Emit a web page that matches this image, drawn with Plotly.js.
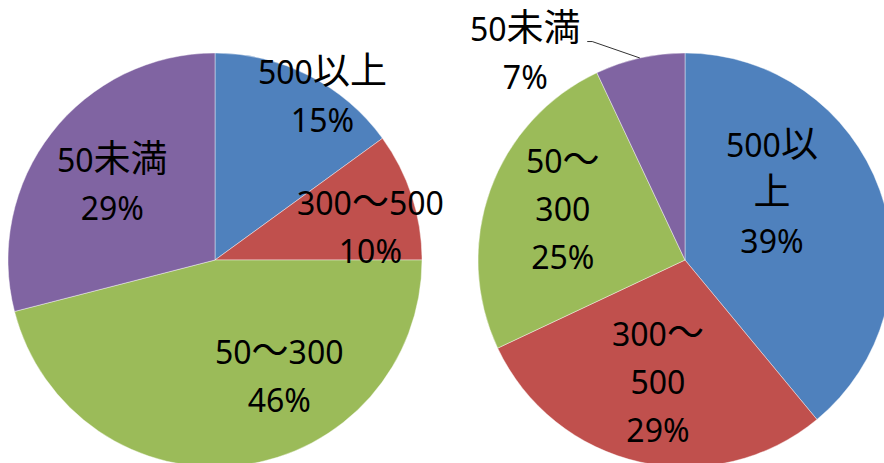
<!DOCTYPE html>
<html>
<head>
<meta charset="utf-8">
<script src="https://cdn.plot.ly/plotly-3.0.1.min.js"></script>
<style>
  html, body { margin: 0; padding: 0; overflow: hidden; background: #fff; }
  #chart { width: 900px; height: 470px; }
</style>
</head>
<body>
<div id="chart"></div>
<script>
// Size classes, clockwise from 12 o'clock
const categories = ['500以上', '300〜500', '50〜300', '50未満'];
// Share of each class (%), left and right pie
const leftShares = [15, 10, 46, 29];
const rightShares = [39, 29, 25, 7];
const sliceColors = ['#4F81BD', '#C0504D', '#9BBB59', '#8064A2'];

// Canvas and pie geometry (px)
const W = 900, H = 470;
const R = 207;
const FONT = 37, DIGIT_FONT = 32;
const LABEL_LIFT = 3; // optical centring of the label blocks (px)

const pies = [
  { values: leftShares, cx: 215, cy: 260, wrap: 0,
    // label placement per slice: [angle shift from slice middle (deg), distance / radius]
    place: [[6, 0.95], [6, 0.77], [-22, 0.64], [-1, 0.62]] },
  { values: rightShares, cx: 685, cy: 260, wrap: 2.5,
    place: [[-18, 0.53], [0, 0.60], [3, 0.64], [-25, 1.265]] }
];
// leader line start, relative to an outside label's centre (px)
const leaderStart = [62, -8], leaderBend = [67, -8];

// Latin runs are set a little smaller than the kana/kanji
function styleRuns(s) {
  return s.replace(/([0-9%]+)/g, '<span style="font-size:' + DIGIT_FONT + 'px">$1</span>');
}
// Wrap a label to a width given in em: numbers stay whole, kana/kanji may break anywhere
function wrapText(s, maxEm) {
  if (!maxEm) return [s];
  const tokens = s.match(/[0-9%]+|./g);
  const width = t => /[0-9%]/.test(t[0]) ? t.length * 0.5 : t.length;
  const out = [];
  let line = '', w = 0;
  tokens.forEach(t => {
    const tw = width(t);
    if (line && w + tw > maxEm) { out.push(line); line = ''; w = 0; }
    line += t; w += tw;
  });
  if (line) out.push(line);
  return out;
}
const px = x => x / W;
const py = y => 1 - y / H;

const traces = [];
const annotations = [];
const shapes = [];

pies.forEach(p => {
  traces.push({
    type: 'pie',
    values: p.values,
    labels: categories,
    sort: false,
    direction: 'clockwise',
    rotation: 0,
    textinfo: 'none',
    hoverinfo: 'none',
    showlegend: false,
    marker: { colors: sliceColors, line: { color: 'rgba(255,255,255,0.7)', width: 0.6 } },
    domain: { x: [px(p.cx - R), px(p.cx + R)], y: [(H - p.cy - R) / H, (H - p.cy + R) / H] }
  });

  const total = p.values.reduce((a, b) => a + b, 0);
  let cum = 0;
  p.values.forEach((v, i) => {
    const mid = (cum + v / 2) / total * 360;
    cum += v;
    const outside = p.place[i][1] > 1;
    const a = (mid + p.place[i][0]) * Math.PI / 180;
    const d = p.place[i][1] * R;
    const lx = p.cx + d * Math.sin(a), ly = p.cy - d * Math.cos(a) - LABEL_LIFT;
    const lines = wrapText(categories[i], outside ? 0 : p.wrap).concat([v + '%']);
    annotations.push({
      xref: 'paper', yref: 'paper', x: px(lx), y: py(ly),
      xanchor: 'center', yanchor: 'middle', showarrow: false,
      text: lines.map(styleRuns).join('<br>'),
      font: { family: 'Noto Sans, Noto Sans CJK JP', size: FONT, color: '#000' }
    });
    if (outside) {
      const m = mid * Math.PI / 180;
      const hx = p.cx + R * Math.sin(m), hy = p.cy - R * Math.cos(m);
      shapes.push({
        type: 'path', xref: 'paper', yref: 'paper',
        path: 'M' + px(lx + leaderStart[0]) + ',' + py(ly + leaderStart[1]) +
              ' L' + px(lx + leaderBend[0]) + ',' + py(ly + leaderBend[1]) +
              ' L' + px(hx) + ',' + py(hy),
        line: { color: '#333', width: 1 }
      });
    }
  });
});

Plotly.newPlot('chart', traces, {
  width: W, height: H,
  margin: { l: 0, r: 0, t: 0, b: 0 },
  paper_bgcolor: '#fff',
  annotations: annotations,
  shapes: shapes
}, { staticPlot: true, displayModeBar: false });
</script>
</body>
</html>
